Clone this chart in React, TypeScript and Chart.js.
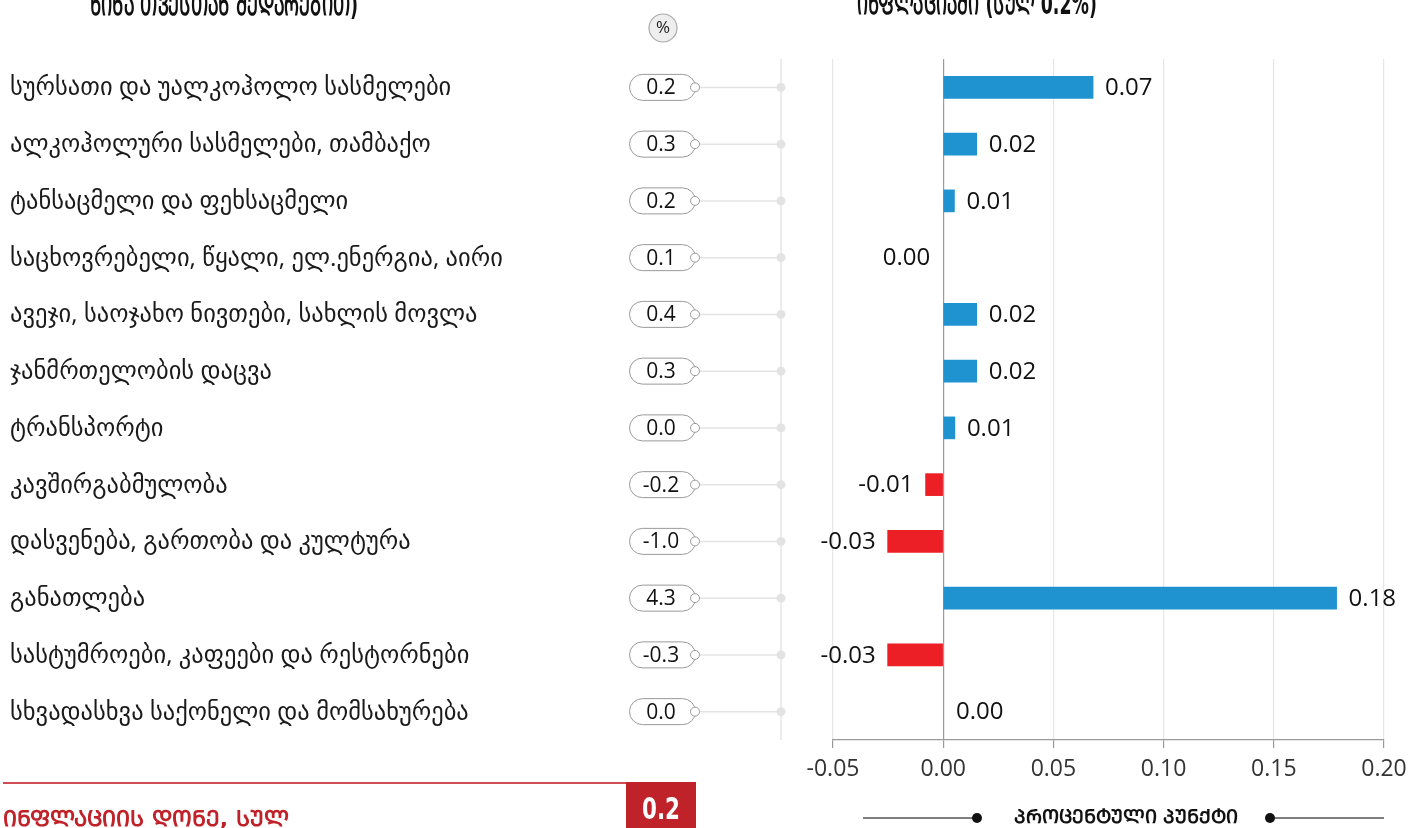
import React, { useEffect, useRef } from "react";
import { Chart, registerables } from "chart.js";

Chart.register(...registerables);

const W = 1424;
const H = 828;

const categories = [
  "სურსათი და უალკოჰოლო სასმელები",
  "ალკოჰოლური სასმელები, თამბაქო",
  "ტანსაცმელი და ფეხსაცმელი",
  "საცხოვრებელი, წყალი, ელ.ენერგია, აირი",
  "ავეჯი, საოჯახო ნივთები, სახლის მოვლა",
  "ჯანმრთელობის დაცვა",
  "ტრანსპორტი",
  "კავშირგაბმულობა",
  "დასვენება, გართობა და კულტურა",
  "განათლება",
  "სასტუმროები, კაფეები და რესტორნები",
  "სხვადასხვა საქონელი და მომსახურება",
];

// monthly change, %
const monthlyChange = [0.2, 0.3, 0.2, 0.1, 0.4, 0.3, 0.0, -0.2, -1.0, 4.3, -0.3, 0.0];

// contribution to inflation, percentage points
const contribution = [0.068, 0.0152, 0.0051, -0.0004, 0.0152, 0.0152, 0.0053, -0.008, -0.0252, 0.1785, -0.0252, 0.0004];

const xTickValues = [-0.05, 0.0, 0.05, 0.1, 0.15, 0.2];

const leftTitle = "ᲬᲘᲜᲐ ᲗᲕᲔᲡᲗᲐᲜ ᲨᲔᲓᲐᲠᲔᲑᲘᲗ)";
const rightTitle = "ᲘᲜᲤᲚᲐᲪᲘᲐᲨᲘ (ᲡᲣᲚ 0.2%)";
const totalLabel = "ᲘᲜᲤᲚᲐᲪᲘᲘᲡ ᲓᲝᲜᲔ, ᲡᲣᲚ";
const totalValue = "0.2";
const unitLabel = "ᲞᲠᲝᲪᲔᲜᲢᲣᲚᲘ ᲞᲣᲜᲥᲢᲘ";

const BLUE = "#1f93d0";
const RED = "#ec1f27";
const DARK_RED = "#c0222a";
const SANS = '"Open Sans", "DejaVu Sans", sans-serif';
const BOLD = '"DejaVu Sans", sans-serif';

const fmt2 = (v: number) => {
  const s = v.toFixed(2);
  return s === "-0.00" ? "0.00" : s;
};

function condensedText(ctx: CanvasRenderingContext2D, text: string, cx: number, y: number, targetW: number) {
  const w = ctx.measureText(text).width;
  const k = Math.min(1, targetW / w);
  ctx.save();
  ctx.translate(cx, y);
  ctx.scale(k, 1);
  ctx.textAlign = "center";
  ctx.fillText(text, 0, 0);
  ctx.restore();
}

export default function App() {
  const ref = useRef<HTMLCanvasElement>(null);

  useEffect(() => {
    const canvas = ref.current!;

    const overlay = {
      id: "overlay",
      beforeDraw(chart: any) {
        const ctx = chart.ctx as CanvasRenderingContext2D;
        const yScale = chart.scales.y;
        ctx.save();
        ctx.fillStyle = "#fff";
        ctx.fillRect(0, 0, W, H);

        // fit category label size
        ctx.font = `100px ${SANS}`;
        let maxW = 0;
        categories.forEach((c) => (maxW = Math.max(maxW, ctx.measureText(c).width)));
        const catSize = Math.min(27, (493 * 100) / maxW);

        // vertical connector line
        ctx.strokeStyle = "#e6e6e6";
        ctx.lineWidth = 1.5;
        ctx.beginPath();
        ctx.moveTo(781, chart.chartArea.top);
        ctx.lineTo(781, chart.chartArea.bottom);
        ctx.stroke();

        categories.forEach((c, i) => {
          const cy = yScale.getPixelForValue(i);
          ctx.font = `${catSize}px ${SANS}`;
          ctx.fillStyle = "#1a1a1a";
          ctx.textAlign = "left";
          ctx.textBaseline = "middle";
          ctx.fillText(c, 10, cy + 1);

          // connector
          ctx.strokeStyle = "#e3e3e3";
          ctx.lineWidth = 1.5;
          ctx.beginPath();
          ctx.moveTo(699, cy);
          ctx.lineTo(781, cy);
          ctx.stroke();
          ctx.fillStyle = "#e3e3e3";
          ctx.beginPath();
          ctx.arc(781, cy, 4.5, 0, Math.PI * 2);
          ctx.fill();

          // pill
          ctx.fillStyle = "#fff";
          ctx.strokeStyle = "#9a9a9a";
          ctx.lineWidth = 1;
          ctx.beginPath();
          (ctx as any).roundRect(629.5, cy - 13, 66, 26, 13);
          ctx.fill();
          ctx.stroke();
          ctx.beginPath();
          ctx.arc(695, cy, 4.5, 0, Math.PI * 2);
          ctx.fill();
          ctx.stroke();

          ctx.fillStyle = "#111";
          ctx.font = `21px ${SANS}`;
          ctx.textAlign = "center";
          ctx.fillText(monthlyChange[i].toFixed(1), 661, cy + 1);
        });

        // % badge
        ctx.fillStyle = "#eeeeee";
        ctx.strokeStyle = "#aaaaaa";
        ctx.lineWidth = 1.2;
        ctx.beginPath();
        ctx.arc(663, 28, 14, 0, Math.PI * 2);
        ctx.fill();
        ctx.stroke();
        ctx.fillStyle = "#222";
        ctx.font = `17px ${SANS}`;
        ctx.textAlign = "center";
        ctx.textBaseline = "middle";
        ctx.fillText("%", 663, 28);

        // titles (clipped at top)
        ctx.fillStyle = "#111";
        ctx.font = `bold 30px ${BOLD}`;
        ctx.textBaseline = "alphabetic";
        condensedText(ctx, leftTitle, 224, 15, 268);
        condensedText(ctx, rightTitle, 977, 14, 240);

        // bottom total
        ctx.strokeStyle = "#cf4d52";
        ctx.lineWidth = 2;
        ctx.beginPath();
        ctx.moveTo(3, 783);
        ctx.lineTo(626, 783);
        ctx.stroke();
        ctx.fillStyle = DARK_RED;
        ctx.fillRect(626, 782, 70, 46);
        ctx.fillStyle = "#fff";
        ctx.font = `bold 30px ${BOLD}`;
        ctx.textBaseline = "middle";
        condensedText(ctx, totalValue, 661, 811, 38);
        ctx.fillStyle = DARK_RED;
        ctx.font = `bold 22px ${BOLD}`;
        ctx.textAlign = "left";
        ctx.textBaseline = "alphabetic";
        ctx.fillText(totalLabel, 3, 826);

        // unit legend
        ctx.strokeStyle = "#555";
        ctx.lineWidth = 1.5;
        ctx.beginPath();
        ctx.moveTo(863, 818);
        ctx.lineTo(977, 818);
        ctx.moveTo(1270, 818);
        ctx.lineTo(1384, 818);
        ctx.stroke();
        ctx.fillStyle = "#111";
        [977, 1270].forEach((x) => {
          ctx.beginPath();
          ctx.arc(x, 818, 5, 0, Math.PI * 2);
          ctx.fill();
        });
        ctx.font = `bold 19px ${BOLD}`;
        ctx.textAlign = "center";
        ctx.textBaseline = "middle";
        ctx.fillText(unitLabel, 1126, 818);
        ctx.restore();
      },
      afterDatasetsDraw(chart: any) {
        const ctx = chart.ctx as CanvasRenderingContext2D;
        const meta = chart.getDatasetMeta(0);
        ctx.save();
        ctx.font = `24px ${SANS}`;
        ctx.fillStyle = "#111";
        ctx.textBaseline = "middle";
        meta.data.forEach((bar: any, i: number) => {
          const v = contribution[i];
          if (v >= 0) {
            ctx.textAlign = "left";
            ctx.fillText(fmt2(v), bar.x + 12, bar.y + 1);
          } else {
            ctx.textAlign = "right";
            ctx.fillText(fmt2(v), bar.x - 12, bar.y + 1);
          }
        });
        ctx.restore();
      },
    };

    const chart = new Chart(canvas, {
      type: "bar",
      data: {
        labels: categories,
        datasets: [
          {
            data: contribution,
            backgroundColor: contribution.map((v) =>
              Math.abs(v) < 0.001 ? "rgba(0,0,0,0)" : v < 0 ? RED : BLUE
            ),
            barThickness: 22,
            borderWidth: 0,
          },
        ],
      },
      options: {
        indexAxis: "y",
        responsive: false,
        animation: false,
        devicePixelRatio: 1,
        layout: { padding: { left: 833, right: 40, top: 59, bottom: 0 } },
        plugins: {
          legend: { display: false },
          tooltip: { enabled: false },
        },
        scales: {
          x: {
            type: "linear",
            min: -0.05,
            max: 0.2,
            afterBuildTicks: (scale: any) => {
              scale.ticks = xTickValues.map((v) => ({ value: v }));
            },
            afterFit: (scale: any) => {
              scale.height = 88;
            },
            grid: {
              color: (c: any) => (c.tick && Math.abs(c.tick.value) < 1e-9 ? "#9a9a9a" : "#e6e6e6"),
              lineWidth: 1.2,
              tickColor: "#9a9a9a",
              tickLength: 8,
              drawTicks: true,
            },
            border: { color: "#9a9a9a", width: 1.2 },
            ticks: {
              color: "#333",
              font: { family: SANS, size: 23 },
              padding: 8,
              maxRotation: 0,
              autoSkip: false,
              callback: (v: any) => Number(v).toFixed(2),
            },
          },
          y: { display: false, offset: true },
        },
      } as any,
      plugins: [overlay],
    });
    return () => chart.destroy();
  }, []);

  return (
    <div style={{ position: "absolute", left: 0, top: 0, width: W, height: H, overflow: "hidden", background: "#fff" }}>
      <canvas ref={ref} width={W} height={H} style={{ width: W, height: H, display: "block" }} />
    </div>
  );
}
